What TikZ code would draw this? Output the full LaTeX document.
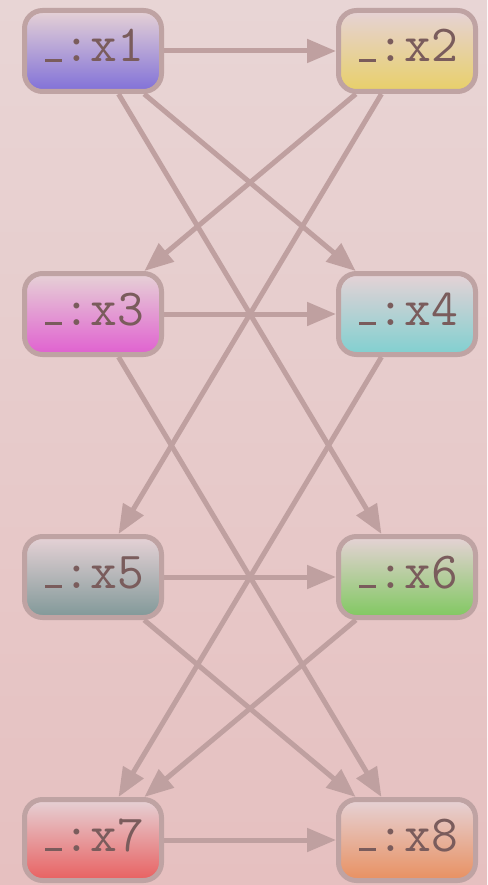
\documentclass[tikz,border=0pt]{standalone}
\usetikzlibrary{arrows.meta}
\definecolor{ink}{HTML}{7A5C5C}
\definecolor{rim}{HTML}{BFA3A3}
\definecolor{wire}{HTML}{BFA0A0}
\definecolor{paperTop}{HTML}{E8D5D5}
\definecolor{paperBot}{HTML}{E6C0C0}
\definecolor{boxTop}{HTML}{E6D2D6}
\definecolor{violet}{HTML}{8070D8}
\definecolor{sand}{HTML}{E8D068}
\definecolor{orchid}{HTML}{E060D0}
\definecolor{aqua}{HTML}{80D0D0}
\definecolor{slate}{HTML}{809898}
\definecolor{leaf}{HTML}{80C860}
\definecolor{coral}{HTML}{E86060}
\definecolor{apricot}{HTML}{E89060}
% short underscore sitting on the baseline
\newcommand\uscore{\kern.06em\rule{.32em}{.06em}\kern.04em}

\begin{document}
\begin{tikzpicture}[x=1pt,y=-1pt,>={Triangle[length=29pt,width=23pt]},
  var/.style={draw=rim,line width=5pt,rounded corners=18pt,
    minimum width=137pt,minimum height=81pt,
    text height=32pt,text depth=10pt,
    top color=boxTop,bottom color=#1,text=ink,
    font=\fontsize{52}{52}\selectfont\ttfamily},
  link/.style={->,draw=wire,line width=5pt}]
  \shade[top color=paperTop,bottom color=paperBot] (0,0) rectangle (487,885);
  \useasboundingbox (0,0) rectangle (487,885);

  \node[var=violet]  (x1) at (93,51)   {\uscore:x1};
  \node[var=sand]    (x2) at (407,51)  {\uscore:x2};
  \node[var=orchid]  (x3) at (93,314)  {\uscore:x3};
  \node[var=aqua]    (x4) at (407,314) {\uscore:x4};
  \node[var=slate]   (x5) at (93,577)  {\uscore:x5};
  \node[var=leaf]    (x6) at (407,577) {\uscore:x6};
  \node[var=coral]   (x7) at (93,840)  {\uscore:x7};
  \node[var=apricot] (x8) at (407,840) {\uscore:x8};

  \foreach \a/\b in {1/2,1/4,1/6,2/3,2/5,3/4,3/8,4/7,5/6,5/8,6/7,7/8}{
    \draw[link] (x\a) -- (x\b);
  }
\end{tikzpicture}
\end{document}
